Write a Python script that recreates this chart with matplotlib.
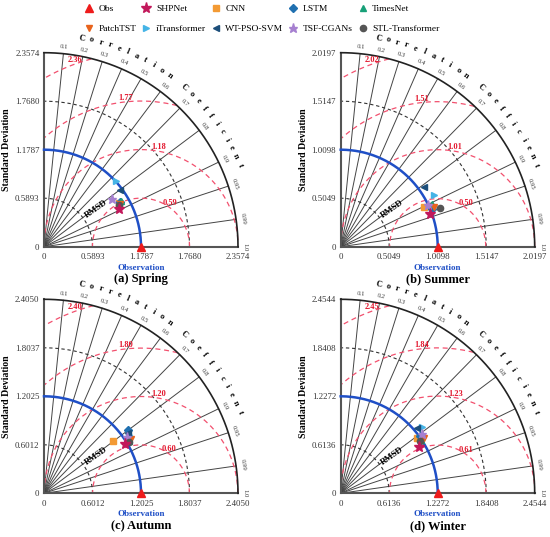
import numpy as np
import matplotlib

matplotlib.use("Agg")
import matplotlib.pyplot as plt
from matplotlib.lines import Line2D

plt.rcParams["font.family"] = ["Liberation Serif", "DejaVu Serif"]

# ---- data ----
SEASONS = ["(a) Spring", "(b) Summer", "(c) Autumn", "(d) Winter"]
OBS_STD = [1.1787, 1.0098, 1.2025, 1.2272]
MAX_STD = [2.3574, 2.0197, 2.4050, 2.4544]
STD_TICK_LABELS = [
    ["0", "0.5893", "1.1787", "1.7680", "2.3574"],
    ["0", "0.5049", "1.0098", "1.5147", "2.0197"],
    ["0", "0.6012", "1.2025", "1.8037", "2.4050"],
    ["0", "0.6136", "1.2272", "1.8408", "2.4544"],
]
RMSD_LEVELS = [
    [0.59, 1.18, 1.77, 2.36],
    [0.50, 1.01, 1.51, 2.02],
    [0.60, 1.20, 1.80, 2.40],
    [0.61, 1.23, 1.84, 2.45],
]
CORR_TICKS = [0.1, 0.2, 0.3, 0.4, 0.5, 0.6, 0.7, 0.8, 0.9, 0.95, 0.99, 1.0]
CORR_LABELS = ["0.1", "0.2", "0.3", "0.4", "0.5", "0.6", "0.7", "0.8", "0.9", "0.95", "0.99", "1.0"]

MODELS = ["SHPNet", "CNN", "LSTM", "TimesNet", "PatchTST", "iTransformer",
          "WT-PSO-SVM", "TSF-CGANs", "STL-Transformer"]
# standard deviation and correlation of every model, per season
STD_SPRING = [1.024, 1.057, 1.071, 1.086, 1.064, 1.185, 1.150, 1.007, 1.045]
CORR_SPRING = [0.893, 0.866, 0.861, 0.857, 0.872, 0.743, 0.802, 0.815, 0.876]
STD_SUMMER = [0.985, 0.967, 1.025, 1.054, 1.059, 1.113, 1.071, 1.012, 1.108]
CORR_SUMMER = [0.939, 0.902, 0.925, 0.906, 0.922, 0.877, 0.811, 0.903, 0.930]
STD_AUTUMN = [1.182, 1.077, 1.304, 1.239, 1.267, 1.273, 1.279, 1.245, 1.230]
CORR_AUTUMN = [0.854, 0.799, 0.801, 0.851, 0.849, 0.825, 0.813, 0.827, 0.854]
STD_WINTER = [1.157, 1.187, 1.232, 1.226, 1.269, 1.325, 1.264, 1.267, 1.209]
CORR_WINTER = [0.860, 0.810, 0.812, 0.832, 0.834, 0.774, 0.761, 0.809, 0.835]

STDS = [STD_SPRING, STD_SUMMER, STD_AUTUMN, STD_WINTER]
CORRS = [CORR_SPRING, CORR_SUMMER, CORR_AUTUMN, CORR_WINTER]

# ---- styles ----
MARKERS = {
    "Obs": ("^", "#ee1b1b", 6),
    "SHPNet": ("*", "#c2185b", 8),
    "CNN": ("s", "#f39a34", 4),
    "LSTM": ("D", "#2070b0", 3.8),
    "TimesNet": ("^", "#17a078", 5),
    "PatchTST": ("v", "#e8631c", 5),
    "iTransformer": (">", "#45b4e6", 5),
    "WT-PSO-SVM": ("<", "#1c4e7a", 5),
    "TSF-CGANs": ("*", "#a680d0", 6.5),
    "STL-Transformer": ("o", "#555555", 4.5),
}
RED_LINE = "#f2506e"
RED_TEXT = "#e3182f"
BLUE = "#1f4fc6"

W, H = 550, 537
PANEL_PX = 194.0
ORIGINS = [(44.0, 246.7), (340.7, 246.7), (44.0, 493.3), (340.7, 493.3)]


def draw_panel(ax, k):
    R = MAX_STD[k]
    obs = OBS_STD[k]
    ticks = [0.0, 0.25 * R, 0.5 * R, 0.75 * R, R]
    ax.set_xlim(0, R)
    ax.set_ylim(0, R)
    for side in ("top", "right"):
        ax.spines[side].set_visible(False)
    for side in ("left", "bottom"):
        ax.spines[side].set_color("#555555")
        ax.spines[side].set_linewidth(1.5)
    ax.set_xticks(ticks)
    ax.set_xticklabels(STD_TICK_LABELS[k])
    ax.set_yticks(ticks)
    ax.set_yticklabels(STD_TICK_LABELS[k])
    ax.tick_params(axis="both", length=0, labelsize=6.3, colors="#333333")
    ax.tick_params(axis="x", pad=4.5)
    ax.tick_params(axis="y", pad=3.3)

    t = np.linspace(0, np.pi / 2, 300)
    # correlation rays
    for c in CORR_TICKS[:-1]:
        a = np.arccos(c)
        ax.plot([0, R * np.cos(a)], [0, R * np.sin(a)], color="#444444", lw=0.7,
                clip_on=False, zorder=1)
    # std arcs
    for frac in (0.25, 0.75):
        ax.plot(frac * R * np.cos(t), frac * R * np.sin(t), color="#333333", lw=0.8,
                ls=(0, (3, 2.5)), clip_on=False, zorder=1)
    ax.plot(obs * np.cos(t), obs * np.sin(t), color=BLUE, lw=1.8, clip_on=False, zorder=3)
    ax.plot(R * np.cos(t), R * np.sin(t), color="#222222", lw=1.2, clip_on=False, zorder=3)

    # RMSD circles centred on the observation
    p = np.linspace(0, np.pi, 600)
    label_angles = [57, 80, 96, 109.5]
    for lev, la in zip(RMSD_LEVELS[k], label_angles):
        x = obs + lev * np.cos(p)
        y = lev * np.sin(p)
        bad = (x < 0) | (x ** 2 + y ** 2 > R ** 2 * 1.0001)
        x = np.where(bad, np.nan, x)
        y = np.where(bad, np.nan, y)
        ax.plot(x, y, color=RED_LINE, lw=0.9, ls=(0, (4, 3)), clip_on=False, zorder=2)
        rr = lev + 0.02 * R
        ax.text(obs + rr * np.cos(np.radians(la)), rr * np.sin(np.radians(la)),
                f"{lev:.2f}", color=RED_TEXT, fontsize=6, fontweight="bold",
                ha="center", va="center", zorder=4)
    ax.text(0.268 * R, 0.193 * R, "RMSD", rotation=35, fontsize=6.3, fontweight="bold",
            ha="center", va="center", zorder=4)

    # correlation labels
    for c, lab in zip(CORR_TICKS, CORR_LABELS):
        a = np.arccos(c)
        ax.text(1.035 * R * np.cos(a), 1.035 * R * np.sin(a), lab, fontsize=4.8,
                rotation=np.degrees(a) - 90, ha="center", va="center", color="#333333")
    word = "Correlation Coefficient"
    for i, ch in enumerate(word):
        if ch == " ":
            continue
        ang = 79.7 - 2.6 * i
        ax.text(1.093 * R * np.cos(np.radians(ang)), 1.093 * R * np.sin(np.radians(ang)), ch,
                fontsize=6, fontweight="bold", rotation=ang - 90, ha="center", va="center")

    # models
    stds = STDS[k]
    corrs = CORRS[k]
    order = list(range(1, len(MODELS))) + [0]
    for j in order:
        m, col, ms = MARKERS[MODELS[j]]
        s, c = stds[j], corrs[j]
        ax.plot(s * c, s * np.sqrt(1 - c ** 2), marker=m, color=col, ms=ms, ls="none",
                clip_on=False, zorder=6)
    m, col, ms = MARKERS["Obs"]
    ax.plot(obs, 0, marker=m, color=col, ms=ms, ls="none", clip_on=False, zorder=7)

    ax.text(-37 / PANEL_PX, 0.5, "Standard Deviation", transform=ax.transAxes, rotation=90,
            fontsize=7.1, fontweight="bold", ha="center", va="center")
    ax.text(0.5, -21 / PANEL_PX, "Observation", transform=ax.transAxes, color=BLUE,
            fontsize=6.5, fontweight="bold", ha="center", va="center")
    ax.text(0.5, -32.5 / PANEL_PX, SEASONS[k], transform=ax.transAxes,
            fontsize=9, fontweight="bold", ha="center", va="center")


fig = plt.figure(figsize=(W / 100, H / 100), dpi=100)
for k, (ox, oy) in enumerate(ORIGINS):
    ax = fig.add_axes([ox / W, (H - oy) / H, PANEL_PX / W, PANEL_PX / H])
    ax.patch.set_alpha(0)
    draw_panel(ax, k)

names = ["Obs"] + MODELS
handles = {}
for n in names:
    m, col, ms = MARKERS[n]
    handles[n] = Line2D([], [], marker=m, color=col, ms=ms, ls="none")
legend_order = ["Obs", "PatchTST", "SHPNet", "iTransformer", "CNN", "WT-PSO-SVM",
                "LSTM", "TSF-CGANs", "TimesNet", "STL-Transformer"]
fig.legend([handles[n] for n in legend_order], legend_order, ncol=5, loc="upper left",
           bbox_to_anchor=(80.7 / W, 1.0 - 1.0 / H), frameon=False, fontsize=6.8,
           handlelength=1.0, handletextpad=0.5, columnspacing=0.55, labelspacing=1.15,
           borderaxespad=0)

fig.savefig("out.png", dpi=100)
